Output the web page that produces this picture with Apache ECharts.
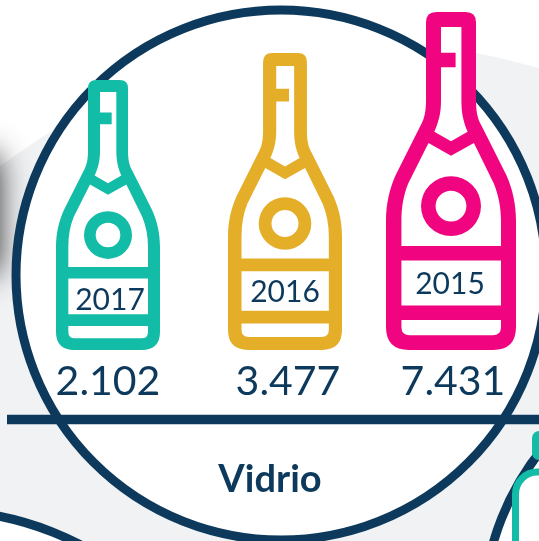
<!DOCTYPE html>
<html><head><meta charset="utf-8">
<style>html,body{margin:0;padding:0;background:#fff}#c{width:539px;height:541px}</style>
<script src="https://cdn.jsdelivr.net/npm/echarts@6/dist/echarts.min.js"></script>
</head><body><div id="c"></div>
<script>
const years = ['2017', '2016', '2015'];
const values = [2102, 3477, 7431];
const valueLabels = ['2.102', '3.477', '7.431'];
const colors = ['#12bca6', '#e4ae29', '#f0047f'];
const bottleWidths = [104, 114, 130];
const xNudges = [1, 6, 0];
const yearRaise = [52, 60, 68];
const title = 'Vidrio';

const NAVY = '#0d3a5c', GREY = '#f1f2f4', TEAL = '#12bca6';
const LOG_FLOOR = 14;   // value at which a bottle would have zero height
const FLOOR_PX = 142;   // pixel distance between that floor and the log axis origin
const bottlePct = v => (100 * Math.log(v / LOG_FLOOR) / Math.log(v)) + '%';

const outer = 'M121 0H191Q216 0 216 25V213C216 240 220 258 229 273L289 393C303 425 312 460 312 503V758Q312 813 257 813H55Q0 813 0 758V503C0 460 9 425 23 393L83 273C92 258 96 240 96 213V25Q96 0 121 0Z';
const holes = 'M132 36V98H167V133H132V213C132 245 126 265 116 288L156 311L196 288C186 265 181 245 181 213V36Z'
  + 'M102 315L53 413C42 440 37 470 37 503V563H276V503C276 470 270 440 259 413L211 315L156 346Z'
  + 'M156 395A72 72 0 0 1 156 539A72 72 0 0 1 156 395Z'
  + 'M156 430A37 37 0 0 0 156 504A37 37 0 0 0 156 430Z'
  + 'M37 598V706H276V598Z'
  + 'M37 741V758Q37 778 57 778H256Q276 778 276 758V741Z';

const chart = echarts.init(document.getElementById('c'), null, {renderer: 'canvas'});
chart.setOption({
  animation: false,
  backgroundColor: '#ffffff',
  title: {
    text: title, left: 265, top: 456, textAlign: 'center',
    textStyle: {color: NAVY, fontFamily: 'Lato', fontWeight: 'bold', fontSize: 38}
  },
  grid: {left: 21, top: 0, width: 516, height: 492},
  xAxis: {type: 'category', data: years, show: false},
  yAxis: {type: 'log', min: 1, max: 9290, show: false},
  graphic: {elements: [
    {type: 'polygon', z: 0, shape: {points: [[-60,205],[0,166],[57,128],[170,78],[300,45],[400,42],[476,53],[539,68],[620,95],[620,620],[-60,620]], smooth: 0.2}, style: {fill: GREY}, silent: true},
    {type: 'rect', z: 0, shape: {x: -300, y: 155, width: 250, height: 118}, style: {fill: '#222', shadowBlur: 30, shadowColor: '#222', shadowOffsetX: 48}, silent: true},
    {type: 'circle', z: 0, shape: {cx: 281, cy: 275, r: 265}, style: {fill: '#fff', stroke: NAVY, lineWidth: 9}, silent: true},
    {type: 'line', z: 0, shape: {x1: 7, y1: 419.5, x2: 539, y2: 419.5}, style: {stroke: NAVY, lineWidth: 9.5}, silent: true},
    {type: 'circle', z: 0, shape: {cx: -60, cy: 815, r: 304.5}, style: {fill: '#fff', stroke: NAVY, lineWidth: 9}, silent: true},
    {type: 'circle', z: 0, shape: {cx: 748, cy: 616, r: 265}, style: {fill: '#fff', stroke: NAVY, lineWidth: 9}, silent: true},
    {type: 'rect', z: 0, shape: {x: 532, y: 431, width: 30, height: 29, r: 7}, style: {fill: TEAL}, silent: true},
    {type: 'rect', z: 0, shape: {x: 515.5, y: 472, width: 60, height: 90, r: 22}, style: {fill: '#fff', stroke: TEAL, lineWidth: 7}, silent: true}
  ]},
  series: [
    {
      type: 'pictorialBar', z: 2,
      symbol: 'path://' + outer, symbolPosition: 'end',
      barCategoryGap: 0,
      data: values.map((v, i) => ({
        value: v,
        symbolSize: [bottleWidths[i], bottlePct(v)],
        symbolOffset: [xNudges[i], 0],
        itemStyle: {color: '#fff'},
        label: {
          show: true, position: 'insideBottom', distance: FLOOR_PX - 52,
          formatter: valueLabels[i], offset: [[1, 9, 2][i], 0],
          color: NAVY, fontFamily: 'Lato', fontWeight: 400, fontSize: 41
        }
      }))
    },
    {
      type: 'pictorialBar', z: 3,
      symbol: 'path://' + outer + holes, symbolPosition: 'end',
      barCategoryGap: 0,
      data: values.map((v, i) => ({
        value: v,
        symbolSize: [bottleWidths[i], bottlePct(v)],
        symbolOffset: [xNudges[i], 0],
        itemStyle: {color: colors[i]},
        label: {
          show: true, position: 'insideBottom', distance: FLOOR_PX + yearRaise[i] - 17,
          formatter: years[i], offset: [[3, 6, -1][i], 0],
          color: NAVY, fontFamily: 'Lato', fontWeight: 400, fontSize: 30
        }
      }))
    }
  ]
});
</script></body></html>
